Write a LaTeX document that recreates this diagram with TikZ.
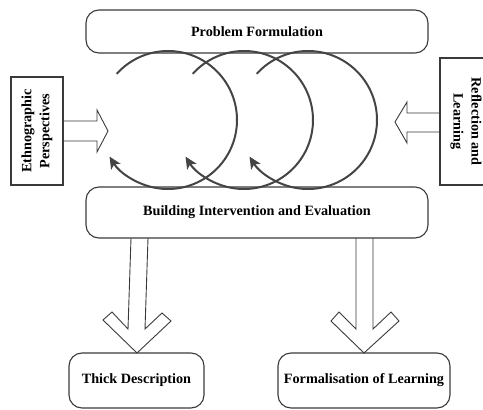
\documentclass[tikz,border=0pt]{standalone}
\usepackage{fontspec}
\setmainfont{Liberation Serif}
\usetikzlibrary{arrows.meta,calc}
\definecolor{linegray}{HTML}{3A3A3A}
\definecolor{circgray}{HTML}{444444}
\begin{document}
\begin{tikzpicture}[x=1pt,y=1pt,
  lbl/.style={font=\fontsize{14.2}{18}\selectfont\bfseries, text=black, align=center},
  rbox/.style={lbl, draw=linegray, line width=1.1pt, rounded corners=13pt, inner sep=0pt},
  sbox/.style={lbl, draw=linegray, line width=1.1pt, inner sep=0pt},
  blockarrow/.style={draw=linegray, line width=0.9pt, line join=miter},
  circarrow/.style={draw=circgray, line width=2pt, -{Stealth[length=12pt,width=11pt,inset=3pt]}}
]
\useasboundingbox (0,0) rectangle (483,-410);

% main boxes
\node[rbox, minimum width=342pt, minimum height=43pt] (pf) at (257,-31.5) {Problem Formulation};
\node[rbox, minimum width=342pt, minimum height=51pt] (bie) at (257,-212.5) {Building Intervention and Evaluation};
\node[rbox, minimum width=135pt, minimum height=55pt] (td) at (136.5,-380.5) {Thick Description};
\node[rbox, minimum width=172pt, minimum height=55pt] (fl) at (364,-380.5) {Formalisation of Learning};

% side boxes (rotated text)
\node[sbox, rotate=90, minimum width=108pt, minimum height=52pt] (ep) at (37,-131) {Ethnographic\\Perspectives};
\node[sbox, rotate=-90, minimum width=127pt, minimum height=52pt] (rl) at (466,-121.5) {Reflection and\\Learning};

% block arrows
\draw[blockarrow] (63,-121) -- (97,-121) -- (97,-110) -- (108,-131) -- (97,-152) -- (97,-141) -- (63,-141);
\draw[blockarrow] (440,-113) -- (407,-113) -- (407,-102) -- (395,-122) -- (407,-143) -- (407,-132) -- (440,-132);
\draw[blockarrow] (131,-238) -- (128,-329) -- (112,-312) -- (103,-320) -- (137,-353) -- (171,-321) -- (162,-313) -- (145,-329) -- (148,-238);
\draw[blockarrow] (356,-238) -- (356,-329) -- (339,-312) -- (331,-321) -- (364,-353) -- (399,-321) -- (391,-312) -- (373,-329) -- (373,-238);

% circular arrows
\coordinate (c1) at (168,-120);
\coordinate (c2) at (244,-120);
\coordinate (c3) at (308,-120);
\draw[circarrow] ($(c1)+(138:69)$) arc[start angle=138, end angle=-148, radius=69];
\draw[circarrow] ($(c2)+(138:69)$) arc[start angle=138, end angle=-148, radius=69];
\draw[circarrow] ($(c3)+(138:69)$) arc[start angle=138, end angle=-148, radius=69];
\end{tikzpicture}
\end{document}
